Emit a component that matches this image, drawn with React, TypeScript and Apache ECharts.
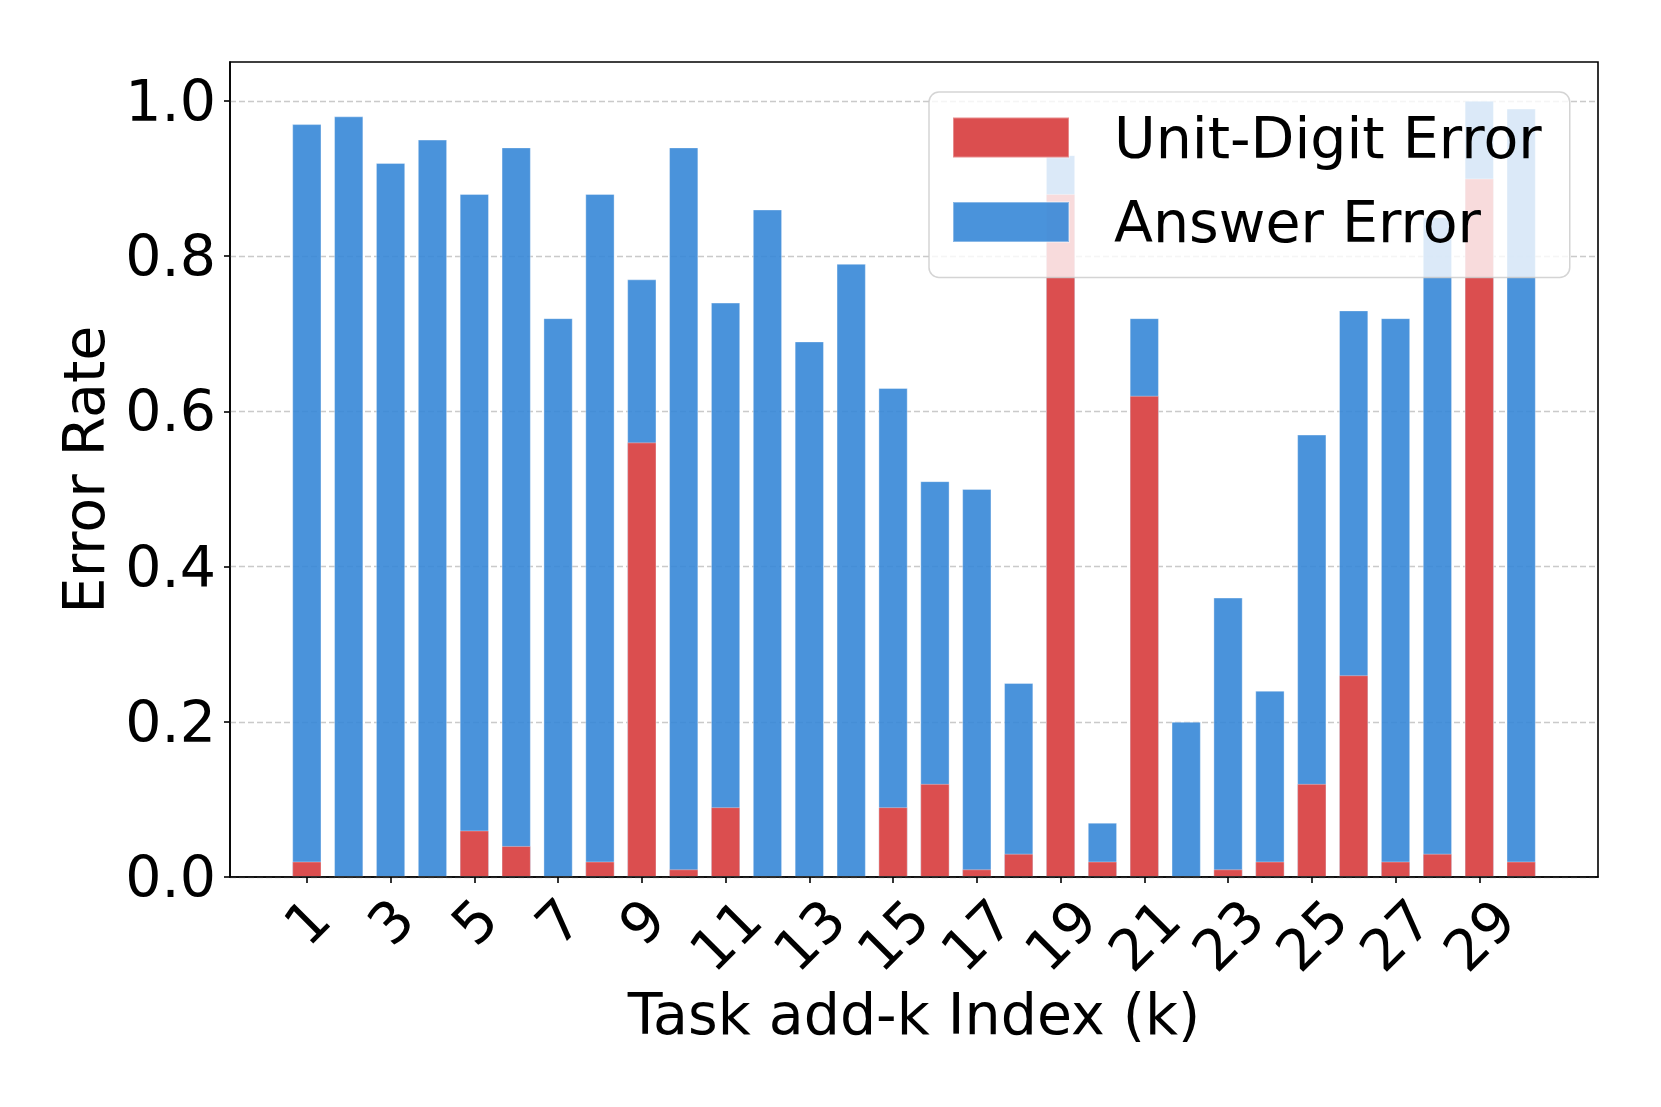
import React, { useEffect, useRef } from "react";
import * as echarts from "echarts";

const taskK = [1, 2, 3, 4, 5, 6, 7, 8, 9, 10, 11, 12, 13, 14, 15, 16, 17, 18, 19, 20, 21, 22, 23, 24, 25, 26, 27, 28, 29, 30];
const answerError = [0.97, 0.98, 0.92, 0.95, 0.88, 0.94, 0.72, 0.88, 0.77, 0.94, 0.74, 0.86, 0.69, 0.79, 0.63, 0.51, 0.5, 0.25, 0.93, 0.07, 0.72, 0.2, 0.36, 0.24, 0.57, 0.73, 0.72, 0.85, 1.0, 0.99];
const unitDigitError = [0.02, 0, 0, 0, 0.06, 0.04, 0, 0.02, 0.56, 0.01, 0.09, 0, 0, 0, 0.09, 0.12, 0.01, 0.03, 0.88, 0.02, 0.62, 0, 0.01, 0.02, 0.12, 0.26, 0.02, 0.03, 0.9, 0.02];
const xTicksOneDigit = [1, 3, 5, 7, 9];
const xTicksTwoDigit = [11, 13, 15, 17, 19, 21, 23, 25, 27, 29];
const yTicks = [0, 0.2, 0.4, 0.6, 0.8, 1.0];

const FONT = "DejaVu Sans";
const FS = 57;

export default function App() {
  const ref = useRef<HTMLDivElement>(null);
  useEffect(() => {
    if (!ref.current) return;
    const chart = echarts.init(ref.current, null, { renderer: "svg" });
    const xMin = -0.835;
    const xMax = 31.835;
    const barW = 29.3;
    const baseX = {
      type: "value",
      min: xMin,
      max: xMax,
      position: "bottom",
      offset: 0,
      splitLine: { show: false },
    };
    chart.setOption({
      animation: false,
      backgroundColor: "#ffffff",
      grid: {
        left: 230,
        right: 63,
        top: 62,
        bottom: 230,
        show: true,
        borderColor: "#000",
        borderWidth: 1.6,
        backgroundColor: "transparent",
      },
      legend: {
        data: ["Unit-Digit Error", "Answer Error"],
        orient: "vertical",
        left: 929,
        top: 92,
        padding: [17, 28, 27, 23],
        itemWidth: 116,
        itemHeight: 40,
        itemGap: 27.5,
        icon: "rect",
        backgroundColor: "rgba(255,255,255,0.8)",
        borderColor: "rgba(204,204,204,0.85)",
        borderWidth: 1.5,
        borderRadius: 10,
        selectedMode: false,
        z: 10,
        textStyle: {
          fontFamily: FONT,
          fontSize: FS,
          lineHeight: 57,
          color: "#000",
          padding: [0, 0, 0, 40],
        },
      },
      xAxis: [
        {
          ...baseX,
          z: 5,
          axisLine: { show: true, onZero: false, lineStyle: { color: "#000", width: 1.6 } },
          axisTick: { show: true, length: 6, lineStyle: { color: "#000", width: 1.6 }, customValues: xTicksOneDigit },
          axisLabel: {
            show: true,
            customValues: xTicksOneDigit,
            rotate: 45,
            align: "center",
            verticalAlign: "middle",
            margin: 44.5,
            fontFamily: FONT,
            fontSize: FS,
            color: "#000",
            formatter: (v: number) => String(Math.round(v)),
          },
          name: "Task add-k Index (k)",
          nameLocation: "middle",
          nameGap: 136.6,
          nameTextStyle: { fontFamily: FONT, fontSize: FS, color: "#000", verticalAlign: "middle" },
        },
        {
          ...baseX,
          z: 5,
          axisLine: { show: false, onZero: false },
          axisTick: { show: true, length: 6, lineStyle: { color: "#000", width: 1.6 }, customValues: xTicksTwoDigit },
          axisLabel: {
            show: true,
            customValues: xTicksTwoDigit,
            rotate: 45,
            align: "center",
            verticalAlign: "middle",
            margin: 58,
            fontFamily: FONT,
            fontSize: FS,
            color: "#000",
            formatter: (v: number) => String(Math.round(v)),
          },
        },
      ],
      yAxis: {
        type: "value",
        min: 0,
        max: 1.05,
        axisLine: { show: true, onZero: false, lineStyle: { color: "#000", width: 1.6 } },
        axisTick: { show: true, length: 6, lineStyle: { color: "#000", width: 1.6 }, customValues: yTicks },
        axisLabel: {
          show: true,
          customValues: yTicks,
          margin: 14,
          fontFamily: FONT,
          fontSize: FS,
          color: "#000",
          formatter: (v: number) => v.toFixed(1),
        },
        splitLine: {
          show: true,
          lineStyle: { color: "rgba(180,180,180,0.7)", width: 1.3, type: [6, 3] },
        },
        name: "Error Rate",
        nameLocation: "middle",
        nameGap: 146,
        nameTextStyle: { fontFamily: FONT, fontSize: FS, color: "#000", verticalAlign: "middle" },
      },
      series: [
        {
          name: "Answer Error",
          type: "bar",
          xAxisIndex: 0,
          barWidth: barW,
          barGap: "-100%",
          itemStyle: {
            color: "rgba(54,135,215,0.9)",
            borderColor: "rgba(255,255,255,0.35)",
            borderWidth: 1,
          },
          data: taskK.map((k, i) => [k, answerError[i]]),
          z: 2,
        },
        {
          name: "Unit-Digit Error",
          type: "bar",
          xAxisIndex: 0,
          barWidth: barW,
          barGap: "-100%",
          itemStyle: {
            color: "#DB4E4F",
            borderColor: "rgba(255,255,255,0.35)",
            borderWidth: 1,
          },
          data: taskK.map((k, i) => [k, unitDigitError[i]]),
          z: 3,
        },
      ],
    });
    return () => chart.dispose();
  }, []);
  return (
    <div
      ref={ref}
      style={{ position: "fixed", left: 0, top: 0, width: 1661, height: 1107, background: "#fff" }}
    />
  );
}
